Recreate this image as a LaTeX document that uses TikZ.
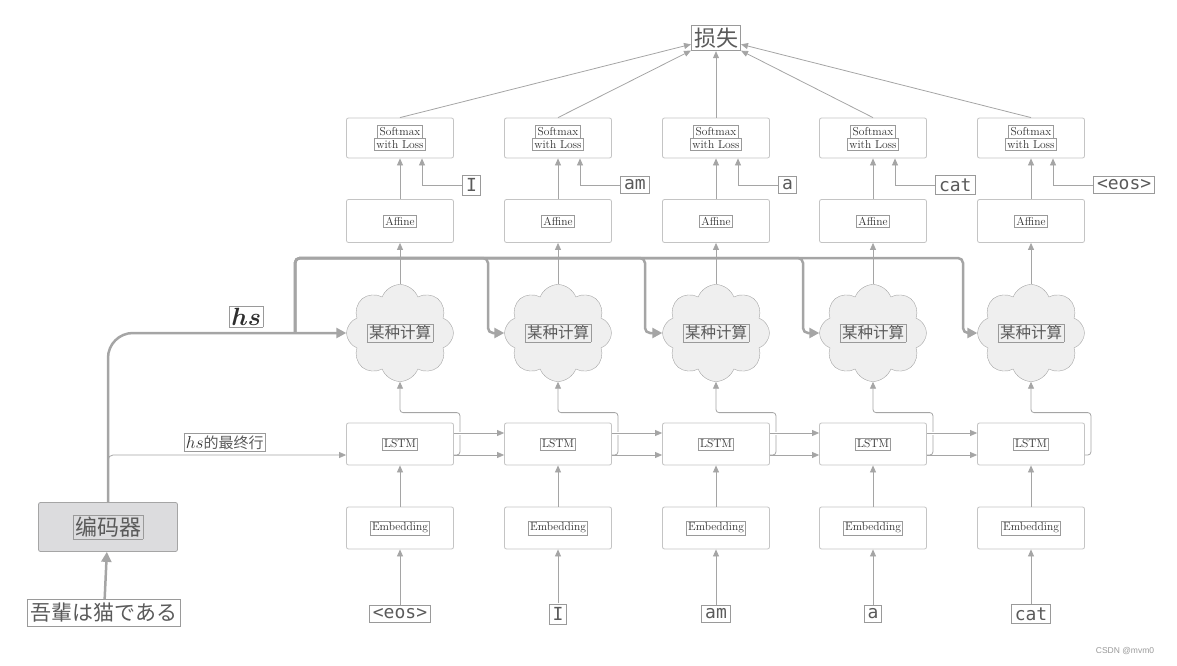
\documentclass[tikz,border=0pt]{standalone}
\usepackage{fontspec}
\usepackage{amsmath}
\usetikzlibrary{shapes.symbols,arrows.meta}
\newfontfamily\cjk{Noto Sans CJK SC}
\newfontfamily\cjkjp{Noto Sans CJK JP}
\newfontfamily\wmfont{Liberation Sans}
\setmonofont{DejaVu Sans Mono}
\definecolor{linegray}{HTML}{A5A5A5}
\definecolor{boxgray}{HTML}{C4C4C4}
\definecolor{framegray}{HTML}{9A9A9A}
\definecolor{textdark}{HTML}{2E2E2E}
\definecolor{textgray}{HTML}{5A5A5A}
\definecolor{cloudgray}{HTML}{EFEFEF}
\definecolor{encgray}{HTML}{DCDCDE}
% framed label inside a node
\newcommand{\lb}[2][1.5pt]{{\colorlet{lbtext}{.}\color{framegray}\setlength{\fboxsep}{#1}\setlength{\fboxrule}{0.8pt}\fbox{\color{lbtext}#2}}}

\begin{document}
\begin{tikzpicture}[x=1pt, y=-1pt,
    box/.style={draw=boxgray, line width=0.8pt, rounded corners=2pt, fill=white, minimum width=107pt, minimum height=42pt, inner sep=0pt, align=center, text=textdark, font=\fontsize{11.5}{12}\selectfont},
    cloudbox/.style={cloud, cloud puffs=8, cloud puff arc=140, cloud ignores aspect, draw=linegray, fill=cloudgray, minimum width=107pt, minimum height=97pt, inner sep=0pt, text=textgray, font=\cjk\fontsize{15.5}{17}\selectfont},
    tok/.style={inner sep=0pt, text=textgray, font=\ttfamily\fontsize{18}{20}\selectfont},
    arr/.style={draw=linegray, line width=0.8pt, -{Triangle[length=7pt, width=6pt]}},
    hsline/.style={draw=linegray, line width=2.5pt, -{Triangle[length=10pt, width=10pt]}}
]
    \useasboundingbox (0,0) rectangle (1177,666);

    \node[inner sep=0pt, text=textgray, font=\cjk\fontsize{22}{24}\selectfont] (loss) at (716,38) {\lb[2pt]{损失}};

    % one column per time step
    \foreach \i/\x/\tin/\tout in {1/400/<eos>/I, 2/558/I/am, 3/716/am/a, 4/873/a/cat, 5/1031/cat/<eos>} {
        \node[box, minimum height=40pt] (sm\i) at (\x,138) {\lb{Softmax}\\[-1.5pt]\lb{with Loss}};
        \node[box, minimum height=43pt] (af\i) at (\x,221) {\lb{Affine}};
        \node[cloudbox] (cl\i) at (\x,333) {\lb{某种计算}};
        \node[box] (ls\i) at (\x,444) {\lb{LSTM}};
        \node[box] (em\i) at (\x,528) {\lb{Embedding}};
        \node[tok] (in\i) at (\x,614) {\lb[3pt]{\tin}};
        \node[tok, anchor=west] (out\i) at (\x+62,185) {\lb[3pt]{\tout}};

        \draw[arr] (sm\i.north) -- (loss);
        \draw[arr] (af\i) -- (sm\i);
        \draw[arr] (out\i.west) -| ([xshift=22pt]sm\i.south);
        \draw[arr, preaction={draw=white, line width=7pt, -, shorten <=23pt, shorten >=11pt}] (cl\i.north) -- (af\i.south);
        \draw[arr, rounded corners=3pt] ([yshift=-11pt]ls\i.east) -- ++(6,0) |- ([yshift=10pt]ls\i.north) -- (cl\i.south);
        \draw[arr] (em\i) -- (ls\i);
        \draw[arr] (in\i) -- (em\i);
    }
    \foreach \i/\j in {1/2, 2/3, 3/4, 4/5} {
        \draw[arr] ([yshift=-11pt]ls\i.east) -- ([yshift=-11pt]ls\j.west);
        \draw[arr, preaction={draw=white, line width=3pt, -}] ([yshift=11pt]ls\i.east) -- ([yshift=11pt]ls\j.west);
    }

    % encoder side
    \node[draw=linegray, line width=0.8pt, fill=encgray, rounded corners=2pt, minimum width=139pt, minimum height=49pt, text=textgray, font=\cjk\fontsize{22}{24}\selectfont] (enc) at (108,527) {\lb{编码器}};
    \node[inner sep=0pt, text=textgray, font=\cjkjp\fontsize{21}{23}\selectfont] (src) at (104,613) {\lb[3pt]{吾輩は猫である}};
    \draw[hsline] (src) -- (enc);

    \draw[hsline, rounded corners=25pt] (enc.north) |- (cl1.west)
        node[pos=0.79, above=4pt, inner sep=0pt, text=textdark, font=\fontsize{23}{25}\selectfont] (hslbl) {\lb{$\boldsymbol{hs}$}};
    \coordinate (hsbr) at (295,333);
    \foreach \i/\x in {2/488, 3/645, 4/803, 5/963}
        \draw[hsline, rounded corners=5pt] (hsbr) |- (\x,258) |- (cl\i.west);
    \draw[arr, rounded corners=5pt] ([yshift=40pt]enc.north) |- ([yshift=-11pt]ls1.west)
        node[pos=0.745, above=3pt, inner sep=0pt, text=textdark, font=\fontsize{17}{19}\selectfont] (finlbl) {\lb{$hs$\cjk\fontsize{15}{17}\selectfont\color{textgray}的最终行}};

    \node[text=gray!80, font=\wmfont\fontsize{8.5}{10}\selectfont] (wm) at (1125,651) {CSDN @mvm0};
\end{tikzpicture}
\end{document}
